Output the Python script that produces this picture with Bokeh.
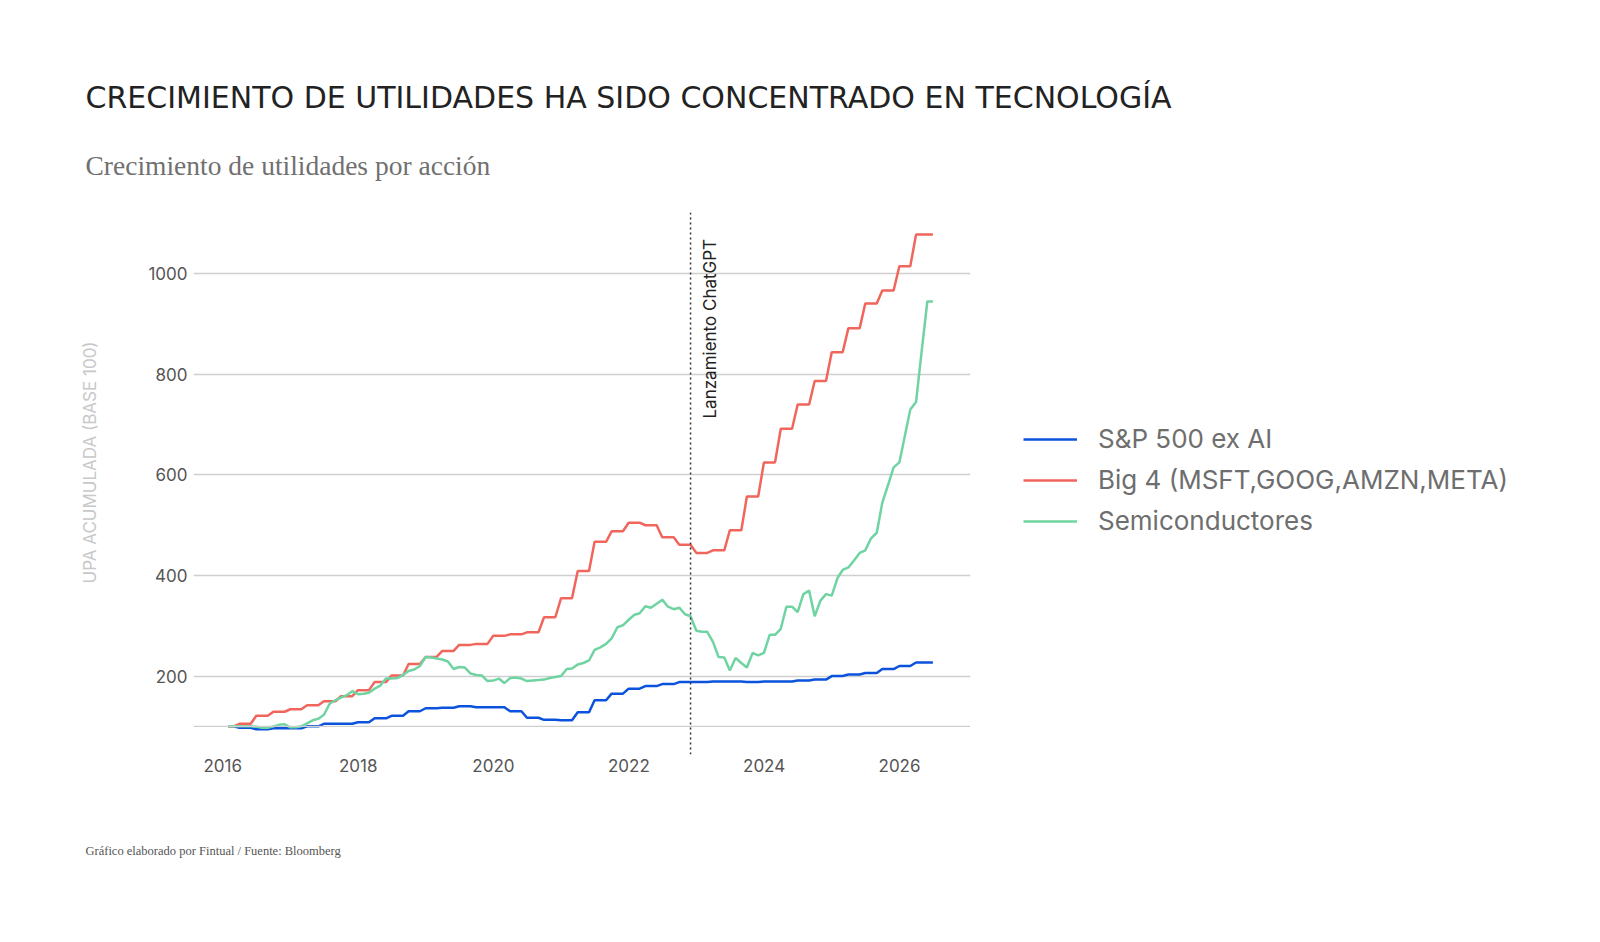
import pandas as pd
from datetime import datetime
from bokeh.plotting import figure
from bokeh.models import (Range1d, FixedTicker, DatetimeTickFormatter, Span, Label, Title,
                          Legend, LegendItem, ColumnDataSource)
from bokeh.embed import file_html
from bokeh.resources import INLINE

# ---------------- data (monthly, Jan 2016 .. Jun 2026) ----------------
dates = pd.date_range("2016-01-31", periods=126, freq="ME")

sp500_ex_ai = [
    100, 100,
    97, 97, 97, 94, 94, 94, 96, 96, 96, 96, 96, 96,
    100, 100, 100, 105, 105, 105, 105, 105, 105, 108, 108, 108,
    116, 116, 116, 121, 121, 121, 130, 130, 130, 136, 136, 136,
    137, 137, 137, 140, 140, 140, 138, 138, 138, 138, 138, 138,
    130, 130, 130, 117, 117, 117, 113, 113, 113, 112, 112, 112,
    128, 128, 128, 152, 152, 152, 165, 165, 165, 175, 175, 175,
    180, 180, 180, 184, 184, 184, 188, 188, 188, 188, 188, 188,
    189, 189, 189, 189, 189, 189, 188, 188, 188, 189, 189, 189,
    189, 189, 189, 191, 191, 191, 193, 193, 193, 200, 200, 200,
    203, 203, 203, 206, 206, 206, 214, 214, 214, 220, 220, 220,
    227, 227, 227, 227,
]

big4 = [
    100, 100,
    105, 105, 105, 121, 121, 121, 129, 129, 129, 134, 134, 134,
    142, 142, 142, 150, 150, 150, 160, 160, 160, 172, 172, 172,
    188, 188, 188, 201, 201, 201, 224, 224, 224, 238, 238, 238,
    250, 250, 250, 262, 262, 262, 264, 264, 264, 280, 280, 280,
    283, 283, 283, 287, 287, 287, 317, 317, 317, 355, 355, 355,
    409, 409, 409, 467, 467, 467, 488, 488, 488, 505, 505, 505,
    500, 500, 500, 476, 476, 476, 461, 461, 461, 445, 445, 445,
    450, 450, 450, 490, 490, 490, 557, 557, 557, 625, 625, 625,
    692, 692, 692, 740, 740, 740, 787, 787, 787, 844, 844, 844,
    892, 892, 892, 941, 941, 941, 967, 967, 967, 1015, 1015, 1015,
    1078, 1078, 1078, 1078,
]

semis = [
    100, 100, 100, 100, 100, 99, 97, 97, 100, 103,
    104, 98, 98, 100, 106, 112, 115, 123, 145, 152,
    157, 162, 170, 164, 165, 167, 175, 181, 195, 195,
    196, 202, 210, 213, 220, 238, 237, 235, 233, 229,
    214, 218, 217, 205, 202, 201, 190, 191, 195, 186,
    196, 197, 195, 190, 191, 192, 193, 196, 198, 200,
    214, 215, 223, 226, 231, 252, 257, 264, 275, 297,
    301, 312, 322, 325, 339, 336, 344, 352, 338, 333,
    336, 323, 319, 290, 288, 288, 268, 238, 237, 211,
    236, 226, 217, 246, 241, 246, 282, 282, 294, 338,
    338, 327, 363, 370, 319, 350, 363, 360, 395, 411,
    416, 430, 445, 450, 474, 485, 545, 580, 615, 625,
    680, 730, 745, 845, 945, 945,
]

series_names = ["S&P 500 ex AI", "Big 4 (MSFT,GOOG,AMZN,META)", "Semiconductores"]
series_colors = ["#0b52dc", "#f0665c", "#6fd4a2"]
y_ticks = [200, 400, 600, 800, 1000]
x_tick_years = [2016, 2018, 2020, 2022, 2024, 2026]
chatgpt_date = datetime(2022, 11, 30)

title_text = "CRECIMIENTO DE UTILIDADES HA SIDO CONCENTRADO EN TECNOLOGÍA"
subtitle_text = "Crecimiento de utilidades por acción"
ylabel_text = "UPA ACUMULADA (BASE 100)"
footer_text = "Gráfico elaborado por Fintual / Fuente: Bloomberg"
event_text = "Lanzamiento ChatGPT"

source = ColumnDataSource(dict(date=dates, sp=sp500_ex_ai, big4=big4, semis=semis))

# ---------------- figure ----------------
p = figure(frame_width=777, frame_height=542, output_backend="svg", toolbar_location=None,
           x_axis_type="datetime",
           x_range=Range1d(datetime(2015, 7, 27), datetime(2027, 1, 19)),
           y_range=Range1d(44, 1122))
p.min_border_left = 193
p.min_border_right = 0
p.min_border_top = 212
p.min_border_bottom = 0
p.outline_line_color = None
p.background_fill_color = "white"
p.border_fill_color = "white"

p.xgrid.grid_line_color = None
p.ygrid.grid_line_color = "#cfcfcf"
p.ygrid.grid_line_width = 1.3

p.yaxis.ticker = FixedTicker(ticks=y_ticks)
p.xaxis.ticker = FixedTicker(ticks=[pd.Timestamp(f"{y}-01-01").value // 10**6 for y in x_tick_years])
p.xaxis.formatter = DatetimeTickFormatter(years="%Y", months="%Y", days="%Y", hours="%Y")
for ax in (p.xaxis, p.yaxis):
    ax.axis_line_color = None
    ax.major_tick_line_color = None
    ax.minor_tick_line_color = None
    ax.major_tick_out = 0
    ax.major_tick_in = 0
    ax.minor_tick_out = 0
    ax.major_label_text_font = "Inter"
    ax.major_label_text_font_size = "17px"
    ax.major_label_text_color = "#555555"
p.yaxis.major_label_standoff = 6
p.xaxis.major_label_standoff = 4

# base line at 100
p.add_layout(Span(location=100, dimension="width", line_color="#cfcfcf", line_width=1.3))

r_sp = p.line("date", "sp", source=source, line_color=series_colors[0], line_width=2.5)
r_b4 = p.line("date", "big4", source=source, line_color=series_colors[1], line_width=2.5)
r_se = p.line("date", "semis", source=source, line_color=series_colors[2], line_width=2.5)

# ChatGPT marker
p.add_layout(Span(location=chatgpt_date, dimension="height", line_color="#333333",
                  line_width=1.5, line_dash="2 3"))
p.add_layout(Label(x=chatgpt_date, y=336, x_units="data", y_units="screen", x_offset=19,
                   text=event_text, angle=90, angle_units="deg",
                   text_align="left", text_baseline="middle",
                   text_font="Inter", text_font_size="17px", text_color="#222222"))

# titles (subtitle first: closest to the frame)
p.add_layout(Title(text=subtitle_text, align="left", offset=-108, standoff=63,
                   text_font="Liberation Serif", text_font_size="27.5px",
                   text_font_style="normal", text_color="#707070"), "above")
p.add_layout(Title(text=title_text, align="left", offset=-108, standoff=4,
                   text_font="DejaVu Sans", text_font_size="30px",
                   text_font_style="normal", text_color="#222222"), "above")
# y label as a side title
p.add_layout(Title(text=ylabel_text, align="left", offset=171, standoff=92,
                   text_font="Inter", text_font_size="17px",
                   text_font_style="normal", text_color="#c8c8c8"), "left")
# footer
p.add_layout(Title(text=footer_text, align="left", offset=-108, standoff=139,
                   vertical_align="top",
                   text_font="Liberation Serif", text_font_size="12.5px",
                   text_font_style="normal", text_color="#555555"), "below")

legend = Legend(items=[LegendItem(label=series_names[0], renderers=[r_sp]),
                       LegendItem(label=series_names[1], renderers=[r_b4]),
                       LegendItem(label=series_names[2], renderers=[r_se])],
                location=(53, 218), padding=0, margin=0, spacing=10,
                glyph_width=54, glyph_height=20, label_standoff=21,
                label_text_font="Inter", label_text_font_size="26px",
                label_text_color="#6e6e6e", border_line_color=None,
                background_fill_alpha=0)
p.add_layout(legend, "right")

open("out.html", "w").write(file_html(p, INLINE))
